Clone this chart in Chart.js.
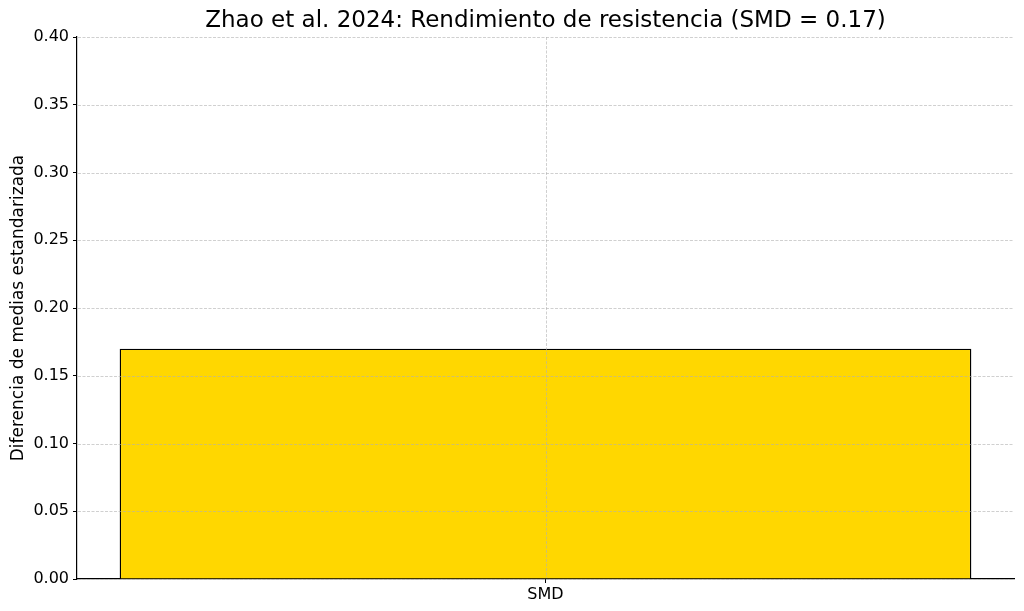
<!DOCTYPE html>
<html>
<head>
<meta charset="utf-8">
<script src="https://cdn.jsdelivr.net/npm/chart.js@4/dist/chart.umd.min.js"></script>
<style>
  html, body { margin: 0; padding: 0; background: #fff; }
  #wrap { width: 1024px; height: 611px; }
</style>
</head>
<body>
<div id="wrap"><canvas id="c"></canvas></div>
<script>
// data
const categories = ['SMD'];
const smdValues = [0.17];
const chartTitle = 'Zhao et al. 2024: Rendimiento de resistencia (SMD = 0.17)';
const yTitle = 'Diferencia de medias estandarizada';

const FONT = "'DejaVu Sans', sans-serif";

// title centred over the plot area, like matplotlib does
const axTitle = {
  id: 'axTitle',
  afterDraw(chart) {
    const ctx = chart.ctx;
    const a = chart.chartArea;
    ctx.save();
    ctx.font = '23px ' + FONT;
    ctx.fillStyle = '#000';
    ctx.textAlign = 'center';
    ctx.textBaseline = 'middle';
    ctx.fillText(chartTitle, (a.left + a.right) / 2, 21);
    ctx.restore();
  }
};

// matplotlib draws this grid on top of the bars, so redraw it after the datasets
const gridOnTop = {
  id: 'gridOnTop',
  afterDatasetsDraw(chart) {
    const ctx = chart.ctx;
    const a = chart.chartArea;
    const xs = chart.scales.x, ys = chart.scales.y;
    ctx.save();
    ctx.strokeStyle = 'rgba(176,176,176,0.75)';
    ctx.lineWidth = 0.8;
    ctx.setLineDash([3, 1.5]);
    ctx.beginPath();
    ys.ticks.forEach(t => {
      const y = Math.round(ys.getPixelForValue(t.value)) + 0.5;
      ctx.moveTo(a.left + 1, y);
      ctx.lineTo(a.right, y);
    });
    xs.ticks.forEach((t, i) => {
      const x = Math.round(xs.getPixelForTick(i)) + 0.5;
      ctx.moveTo(x, a.top);
      ctx.lineTo(x, a.bottom - 1);
    });
    ctx.stroke();
    ctx.restore();
  }
};

const gridOpts = { drawOnChartArea: false, tickColor: '#000', tickLength: 4, tickWidth: 1 };

new Chart(document.getElementById('c'), {
  type: 'bar',
  data: {
    labels: categories,
    datasets: [{
      data: smdValues,
      backgroundColor: '#FFD700',
      borderColor: '#000',
      borderWidth: 1.4,
      barPercentage: 0.909,
      categoryPercentage: 1
    }]
  },
  options: {
    responsive: true,
    maintainAspectRatio: false,
    animation: false,
    layout: { padding: { top: 37, right: 10, left: 0, bottom: 0 } },
    plugins: {
      legend: { display: false },
      title: { display: false },
      tooltip: { enabled: false }
    },
    scales: {
      x: {
        grid: Object.assign({}, gridOpts, { offset: false }),
        border: { color: '#000', width: 1.2 },
        ticks: { color: '#000', font: { family: FONT, size: 16 }, padding: 2 },
        afterFit(s) { s.height = 32; }
      },
      y: {
        min: 0,
        max: 0.4,
        grid: gridOpts,
        border: { color: '#000', width: 1.2 },
        ticks: {
          stepSize: 0.05,
          color: '#000',
          font: { family: FONT, size: 16 },
          padding: 4,
          callback: v => v.toFixed(2)
        },
        title: {
          display: true,
          text: yTitle,
          color: '#000',
          font: { family: FONT, size: 17 },
          padding: { top: 8, bottom: 6 }
        },
        afterFit(s) { s.width = 77; }
      }
    }
  },
  plugins: [gridOnTop, axTitle]
});
</script>
</body>
</html>
